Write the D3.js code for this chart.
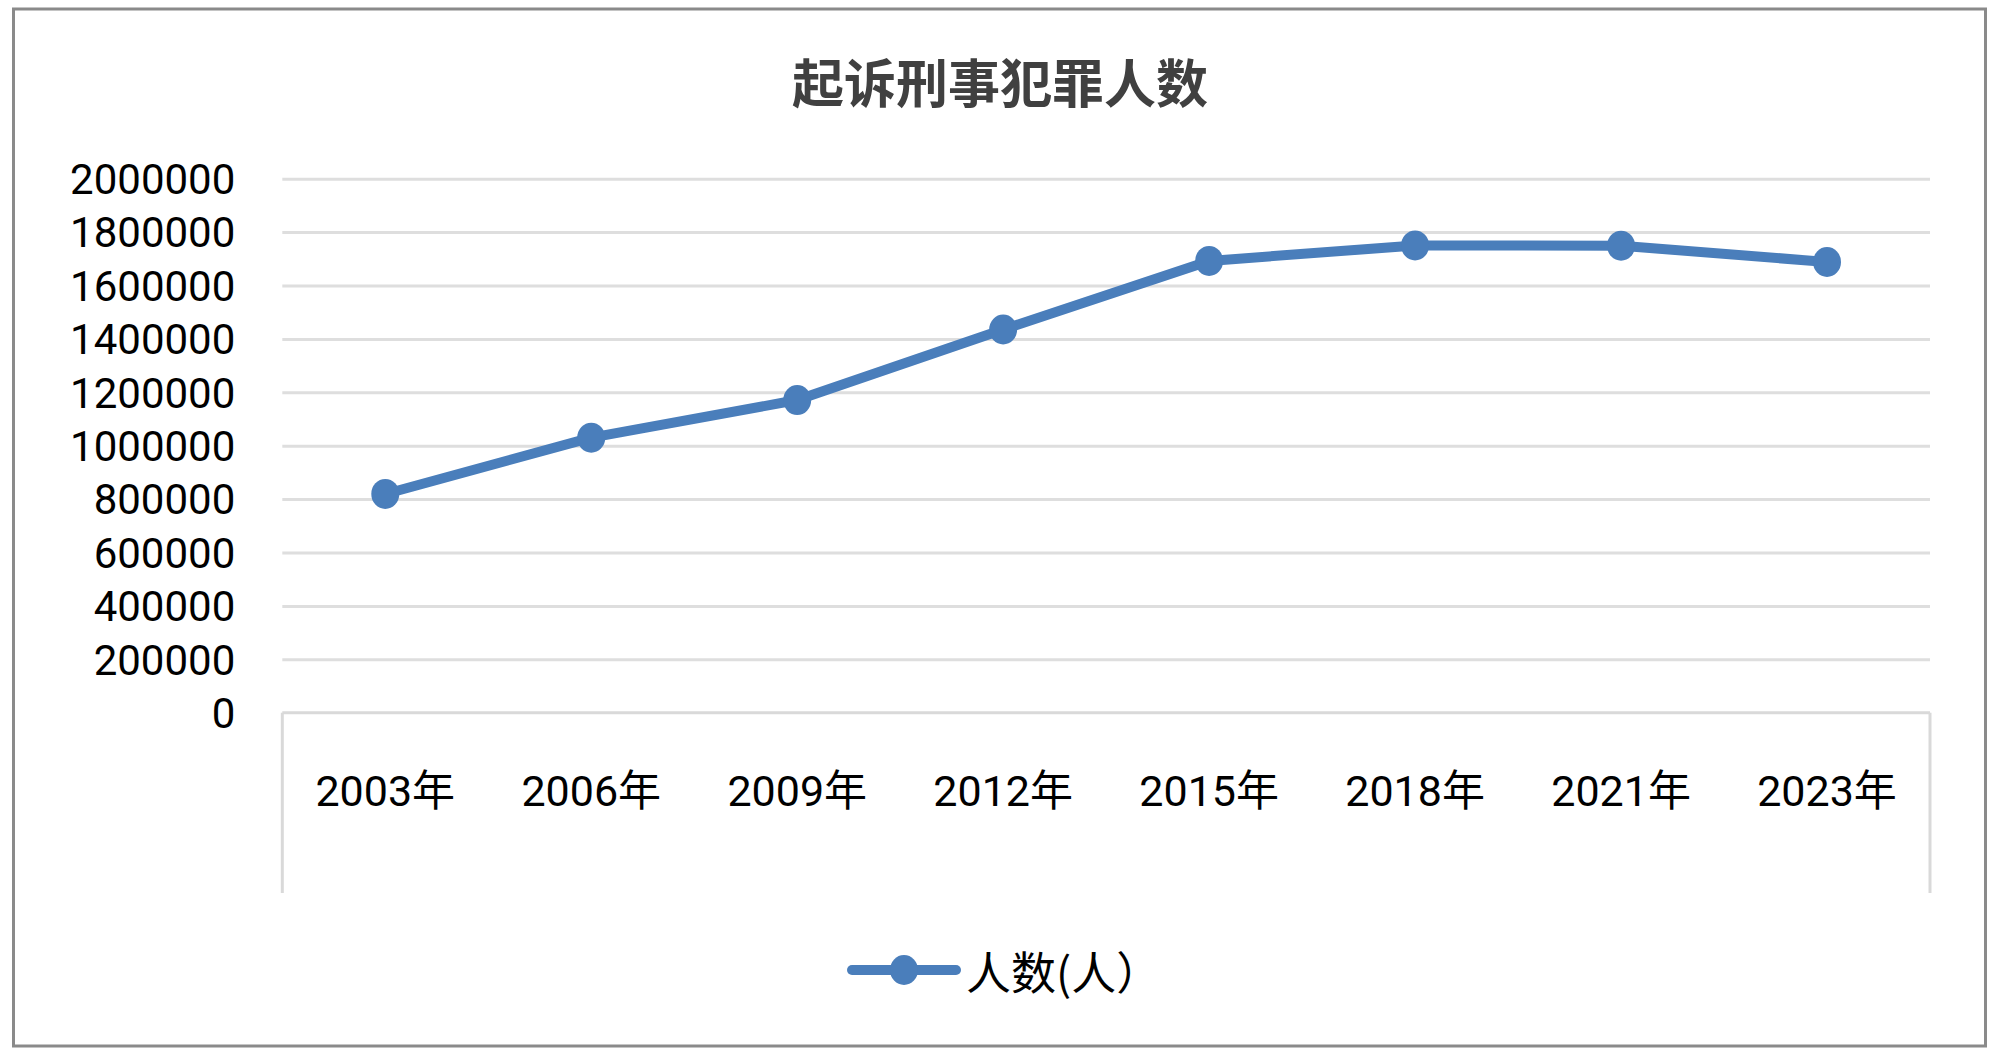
<!DOCTYPE html>
<html>
<head>
<meta charset="utf-8">
<script src="https://cdn.jsdelivr.net/npm/d3@7"></script>
<style>
  html, body { margin: 0; padding: 0; background: #fff; }
  svg { display: block; }
</style>
</head>
<body>
<svg id="chart" width="2000" height="1057"></svg>
<script>
// ---- data ----
const title = "起诉刑事犯罪人数";
const seriesName = "人数(人）";
const categories = ["2003年", "2006年", "2009年", "2012年", "2015年", "2018年", "2021年", "2023年"];
const values = [819216, 1030000, 1171000, 1435182, 1692000, 1750000, 1748962, 1688000];
const yTicks = [0, 200000, 400000, 600000, 800000, 1000000, 1200000, 1400000, 1600000, 1800000, 2000000];

// ---- layout ----
const W = 2000, H = 1057;
const plotLeft = 282.3, plotRight = 1930, plotBottom = 712.7, plotTop = 178.7;
const catBoxBottom = 893;
const blue = "#4a7ebb";
const numFont = "Roboto, 'Noto Sans CJK SC', sans-serif";
const cjkFont = "'Noto Sans CJK SC', sans-serif";

const svg = d3.select("#chart");
svg.append("rect").attr("width", W).attr("height", H).attr("fill", "#fff");

// outer border
svg.append("rect")
  .attr("x", 13.5).attr("y", 9).attr("width", 1972).attr("height", 1037)
  .attr("fill", "none").attr("stroke", "#8a8a8a").attr("stroke-width", 3);

// title
svg.append("text")
  .attr("x", 1000).attr("y", 80)
  .attr("text-anchor", "middle").attr("dominant-baseline", "central")
  .attr("font-family", cjkFont).attr("font-size", 52).attr("font-weight", 600)
  .attr("fill", "#404040")
  .text(title);

// scales
const x = d3.scaleBand().domain(categories).range([plotLeft, plotRight]).padding(0);
const y = d3.scaleLinear().domain([0, 2000000]).range([plotBottom, plotTop]);

// gridlines
const grid = svg.append("g").attr("transform", `translate(${plotLeft},0)`)
  .call(d3.axisLeft(y).tickValues(yTicks.filter(v => v > 0)).tickSize(-(plotRight - plotLeft)).tickFormat(""));
grid.select(".domain").remove();
grid.selectAll(".tick line").attr("stroke", "#dedede").attr("stroke-width", 3);

// y labels
const yAx = svg.append("g").attr("transform", `translate(${plotLeft},0)`)
  .call(d3.axisLeft(y).tickValues(yTicks).tickSize(0).tickPadding(47).tickFormat(d3.format("d")));
yAx.select(".domain").remove();
yAx.selectAll("text")
  .attr("font-family", numFont).attr("font-size", 42).attr("fill", "#000")
  .attr("dy", "0.35em");

// category axis box
const boxG = svg.append("g").attr("fill", "none").attr("stroke", "#d9d9d9").attr("stroke-width", 3);
boxG.append("line").attr("x1", x.range()[0]).attr("x2", x.range()[1]).attr("y1", y(0)).attr("y2", y(0));
boxG.append("line").attr("x1", x.range()[0]).attr("x2", x.range()[0]).attr("y1", y(0)).attr("y2", catBoxBottom);
boxG.append("line").attr("x1", x.range()[1]).attr("x2", x.range()[1]).attr("y1", y(0)).attr("y2", catBoxBottom);

// x labels
const xAx = svg.append("g").attr("transform", `translate(0,${plotBottom})`)
  .call(d3.axisBottom(x).tickSize(0).tickPadding(0));
xAx.select(".domain").remove();
xAx.selectAll("text")
  .attr("font-family", numFont).attr("font-size", 43).attr("fill", "#000")
  .attr("y", 78).attr("dy", "0.35em");

// line
const pts = categories.map((c, i) => ({ c, v: values[i] }));
const line = d3.line().x(d => x(d.c) + x.bandwidth() / 2).y(d => y(d.v));
svg.append("path").datum(pts)
  .attr("d", line).attr("fill", "none").attr("stroke", blue)
  .attr("stroke-width", 10).attr("stroke-linejoin", "round").attr("stroke-linecap", "round");
svg.append("g").selectAll("ellipse").data(pts).join("ellipse")
  .attr("cx", d => x(d.c) + x.bandwidth() / 2).attr("cy", d => y(d.v))
  .attr("rx", 14).attr("ry", 15).attr("fill", blue);

// legend
const lg = svg.append("g");
lg.append("line").attr("x1", 852).attr("x2", 956).attr("y1", 970).attr("y2", 970)
  .attr("stroke", blue).attr("stroke-width", 10).attr("stroke-linecap", "round");
lg.append("ellipse").attr("cx", 904).attr("cy", 970).attr("rx", 14).attr("ry", 15).attr("fill", blue);
lg.append("text").attr("x", 966).attr("y", 970).attr("dominant-baseline", "central")
  .attr("font-family", cjkFont).attr("font-size", 45).attr("fill", "#000")
  .text(seriesName);
</script>
</body>
</html>
